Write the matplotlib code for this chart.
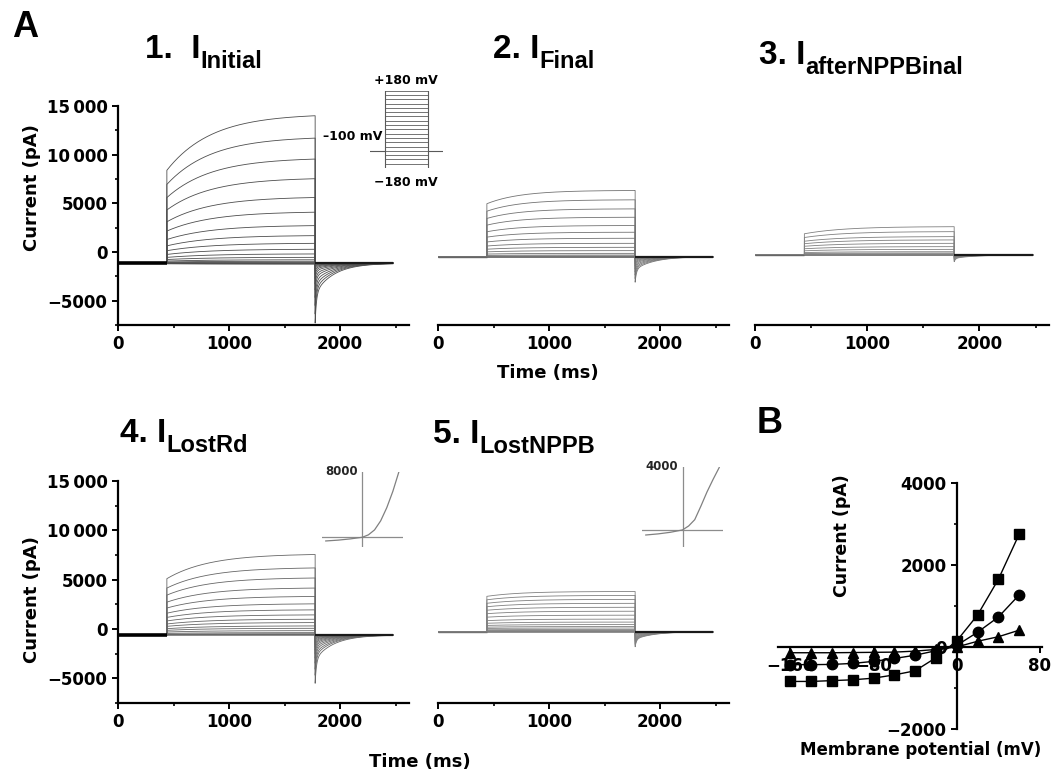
import numpy as np
import matplotlib
matplotlib.use('Agg')
import matplotlib.pyplot as plt
from matplotlib.ticker import MultipleLocator, FixedLocator

plt.rcParams['font.family'] = 'DejaVu Sans'
plt.rcParams['font.weight'] = 'bold'

W, H = 1056, 773

# --- data -----------------------------------------------------------------
# voltage steps of the protocol (mV), one sweep each
step_mv = [180, 160, 140, 120, 100, 80, 60, 40, 20, 0,
           -20, -40, -60, -80, -100, -120, -140, -160, -180]
holding_mv = -100

# current at the end of each step (pA), top sweep first
end_initial = [14000, 11700, 9550, 7530, 5600, 4090, 2710, 1680, 890, 280,
               -200, -550, -800, -950, -1050, -1100, -1150, -1200, -1250]
end_final = [6320, 5360, 4430, 3570, 2720, 2030, 1410, 890, 480, 140,
             -140, -310, -400, -450, -480, -500, -500, -510, -520]
end_after_nppb = [2600, 2090, 1580, 1240, 890, 550, 270, 30, -100, -180,
                  -230, -260, -280, -290, -300, -300, -310, -310, -320]
end_lost_rd = [7550, 6190, 5170, 4150, 3300, 2550, 1940, 1430, 990, 650,
               310, 70, -170, -370, -480, -540, -580, -600, -620]
end_lost_nppb = [3800, 3400, 3000, 2600, 2200, 1800, 1400, 1000, 700, 450,
                 250, 100, -50, -150, -200, -230, -250, -260, -270]

# holding current and deepest tail current (pA) per panel
baselines = [-1150, -480, -310, -610, -270]
tail_mins = [-7300, -3100, -1000, -5500, -1800]
# fraction of the step current present right at onset, and slow rise tau (ms)
onset_frac = [0.63, 0.80, 0.75, 0.70, 0.88]
rise_tau = [400, 300, 350, 380, 300]

# pulse timing (ms)
T_ON, T_OFF, T_END = 440, 1775, 2480

# small I-V insets in panels 4 and 5
inset_mv = [-180, -120, -60, 0, 30, 60, 90, 120, 150, 180]
inset_lost_rd = [-450, -350, -200, 0, 300, 900, 2000, 3600, 5600, 8000]
inset_lost_nppb = [-320, -250, -150, 0, 250, 650, 1500, 2400, 3200, 3950]

# panel B: I-V relation
iv_mv = [-160, -140, -120, -100, -80, -60, -40, -20, 0, 20, 40, 60]
iv_squares = [-840, -840, -820, -800, -760, -680, -580, -260, 150, 780, 1650, 2750]
iv_circles = [-430, -430, -425, -400, -350, -280, -200, -90, 40, 360, 730, 1270]
iv_triangles = [-140, -140, -140, -135, -130, -125, -100, -60, 0, 140, 250, 410]


def px_axes(fig, left, top, right, bottom):
    return fig.add_axes([left / W, 1 - bottom / H, (right - left) / W, (bottom - top) / H])


def make_trace(amp, base, f0, tau, tail_gain):
    t_pre = np.array([0.0, T_ON])
    t_on = np.linspace(T_ON, T_OFF, 300)
    t_post = np.linspace(T_OFF, T_END, 400)
    g = (1 - np.exp(-(t_on - T_ON) / tau)) / (1 - np.exp(-(T_OFF - T_ON) / tau))
    i_on = base + (amp - base) * (f0 + (1 - f0) * g)
    d = t_post - T_OFF
    decay = 0.5 * np.exp(-d / 12) + 0.5 * np.exp(-d / 170)
    i_post = base + tail_gain * max(amp - base, 0) * decay
    t = np.concatenate([t_pre, t_on, t_post])
    i = np.concatenate([[base, base], i_on, i_post])
    return t, i


def draw_traces(ax, ends, base, f0, tau, tail_min, color, pre_lw, pre_color):
    gain = (tail_min - base) / (ends[0] - base)
    for amp in ends:
        t, i = make_trace(amp, base, f0, tau, gain)
        ax.plot(t, i, color=color, lw=0.6)
    ax.plot([0, T_ON], [base, base], color=pre_color, lw=pre_lw, solid_capstyle='butt')
    ax.plot([T_OFF, T_END], [base, base], color='0.1', lw=1.6, solid_capstyle='butt')


def style_time_axis(ax, with_y):
    ax.set_xlim(0, 2620)
    ax.set_ylim(-7500, 15000)
    for s in ['top', 'right']:
        ax.spines[s].set_visible(False)
    ax.spines['bottom'].set_linewidth(1.6)
    ax.xaxis.set_major_locator(FixedLocator([0, 1000, 2000]))
    ax.xaxis.set_minor_locator(FixedLocator([500, 1500, 2500]))
    ax.tick_params(axis='both', which='major', direction='out', length=4, width=1.4, labelsize=12)
    ax.tick_params(axis='both', which='minor', direction='out', length=2.5, width=1.2)
    if with_y:
        ax.spines['left'].set_linewidth(1.6)
        ax.yaxis.set_major_locator(FixedLocator([-5000, 0, 5000, 10000, 15000]))
        ax.yaxis.set_minor_locator(MultipleLocator(2500))
        ax.set_yticklabels(['\u22125000', '0', '5000', '10\u2009000', '15\u2009000'])
    else:
        ax.spines['left'].set_visible(False)
        ax.set_yticks([])
    ax.patch.set_alpha(0)


def add_title(fig, x, y, main, sub):
    txt = fig.text(x / W, 1 - y / H, main, fontsize=24, fontweight='bold',
                   family='Liberation Sans', va='baseline', ha='left')
    fig.add_artist(matplotlib.text.Annotation(
        sub, xy=(1, 0), xycoords=txt, xytext=(0, -2.5), textcoords='offset points',
        fontsize=17, fontweight='bold', family='Liberation Sans', va='baseline', ha='left'))


fig = plt.figure(figsize=(W / 100, H / 100), dpi=100)

panels = [
    (118, 106, 409, 325, end_initial, True, '0.3', 2.6, 'black'),
    (438, 106, 729, 325, end_final, False, '0.45', 1.0, '0.4'),
    (755, 106, 1049, 325, end_after_nppb, False, '0.5', 1.0, '0.4'),
    (118, 481, 409, 703, end_lost_rd, True, '0.4', 2.6, 'black'),
    (438, 481, 729, 703, end_lost_nppb, False, '0.5', 1.0, '0.45'),
]
for k, (l, t, r, b, ends, with_y, col, pre_lw, pre_col) in enumerate(panels):
    ax = px_axes(fig, l, t, r, b)
    draw_traces(ax, ends, baselines[k], onset_frac[k], rise_tau[k], tail_mins[k],
                col, pre_lw, pre_col)
    style_time_axis(ax, with_y)

# titles
add_title(fig, 145, 58, '1.  I', 'Initial')
add_title(fig, 493, 58, '2. I', 'Final')
add_title(fig, 759, 64, '3. I', 'afterNPPBinal')
add_title(fig, 120, 442, '4. I', 'LostRd')
add_title(fig, 433, 443, '5. I', 'LostNPPB')

fig.text(12 / W, 1 - 37 / H, 'A', fontsize=26, fontweight='bold', family='Liberation Sans')
fig.text(757 / W, 1 - 433 / H, 'B', fontsize=26, fontweight='bold', family='Liberation Sans')

# axis labels
fig.text(32 / W, 1 - 188 / H, 'Current (pA)', rotation=90, ha='center', va='center', fontsize=13)
fig.text(32 / W, 1 - 600 / H, 'Current (pA)', rotation=90, ha='center', va='center', fontsize=13)
fig.text(548 / W, 1 - 373 / H, 'Time (ms)', ha='center', va='center', fontsize=13)
fig.text(420 / W, 1 - 762 / H, 'Time (ms)', ha='center', va='center', fontsize=13)

# voltage protocol inset (panel 1)
axp = px_axes(fig, 370, 90.7, 443, 168)
axp.set_xlim(0, 1)
axp.set_ylim(-180, 180)
axp.axis('off')
x0, x1 = 0.205, 0.795
axp.plot([0, x0], [holding_mv, holding_mv], color='0.35', lw=0.8)
axp.plot([x1, 1], [holding_mv, holding_mv], color='0.35', lw=0.8)
for v in step_mv:
    axp.plot([x0, x1], [v, v], color='0.45', lw=0.7)
axp.plot([x0, x0], [min(step_mv), max(step_mv)], color='0.35', lw=0.8)
axp.plot([x1, x1], [min(step_mv), max(step_mv)], color='0.35', lw=0.8)
fig.text(406 / W, 1 - 80 / H, '+180 mV', ha='center', va='center', fontsize=9)
fig.text(406 / W, 1 - 183 / H, '\u2212180 mV', ha='center', va='center', fontsize=9)
fig.text(323 / W, 1 - 137 / H, '\u2013100 mV', ha='left', va='center', fontsize=9)


def iv_inset(left, top, right, bottom, ymin, ymax, values, label):
    a = px_axes(fig, left, top, right, bottom)
    a.set_xlim(-200, 200)
    a.set_ylim(ymin, ymax)
    a.axis('off')
    a.plot([-200, 200], [0, 0], color='0.55', lw=0.9)
    a.plot([0, 0], [ymin, ymax], color='0.55', lw=0.9)
    a.plot(inset_mv, values, color='0.5', lw=0.9)
    a.text(-22, ymax, label, ha='right', va='center', fontsize=8.5, color='0.15')


iv_inset(321.7, 471.7, 403, 546.7, -1150, 8000, inset_lost_rd, '8000')
iv_inset(641.7, 466.7, 723.3, 546.7, -1060, 4000, inset_lost_nppb, '4000')

# panel B
axb = px_axes(fig, 778, 483, 1042, 729)
axb.set_xlim(-172, 82)
axb.set_ylim(-2000, 4000)
axb.spines['left'].set_position(('data', 0))
axb.spines['bottom'].set_position(('data', 0))
for s in ['top', 'right']:
    axb.spines[s].set_visible(False)
for s in ['left', 'bottom']:
    axb.spines[s].set_linewidth(1.6)
axb.plot(iv_mv, iv_squares, 's-', color='black', lw=1.0, ms=6.5, zorder=3)
axb.plot(iv_mv, iv_circles, 'o-', color='black', lw=1.0, ms=7.5, zorder=3)
axb.plot(iv_mv, iv_triangles, '^-', color='black', lw=1.0, ms=6.5, zorder=3)
axb.xaxis.set_major_locator(FixedLocator([-160, -80, 0, 80]))
axb.set_xticklabels(['\u2212160', '\u221280', '0', '80'])
axb.yaxis.set_major_locator(FixedLocator([-2000, 0, 2000, 4000]))
axb.set_yticklabels(['\u22122000', '0', '2000', '4000'])
axb.yaxis.set_minor_locator(MultipleLocator(1000))
axb.tick_params(axis='both', which='major', direction='out', length=4, width=1.4, labelsize=12)
axb.tick_params(axis='both', which='minor', direction='out', length=2.5, width=1.2)
axb.patch.set_alpha(0)
fig.text(842 / W, 1 - 536 / H, 'Current (pA)', rotation=90, ha='center', va='center', fontsize=12.5)
fig.text(921 / W, 1 - 750 / H, 'Membrane potential (mV)', ha='center', va='center', fontsize=12)

fig.savefig('out.png', dpi=100)
